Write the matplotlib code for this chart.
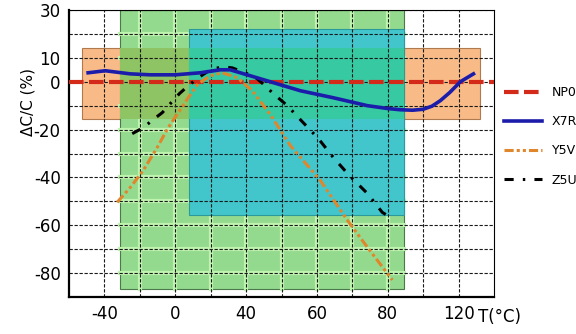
import matplotlib
matplotlib.use('Agg')
import matplotlib.pyplot as plt
from matplotlib.patches import Rectangle

# x axis: one grid step is 20 units, labels as printed on the original
x_grid = [-40, -20, 0, 20, 40, 60, 80, 100, 120, 140, 160]
x_labels = ['-40', '', '0', '', '40', '', '60', '', '80', '', '120']
y_grid = [-80, -70, -60, -50, -40, -30, -20, -10, 0, 10, 20, 30]
y_labels = ['-80', '', '-60', '', '-40', '', '-20', '', '0', '10', '', '30']

# tolerance regions (x0, x1, y0, y1)
x7r_box = (-52.5, 172, -15.4, 14.2)
y5v_box = (-31, 129.4, -86.7, 30)
z5u_box = (7.9, 129.4, -55.8, 22.1)

# curves
np0_x = [-60, 180]
np0_y = [0, 0]

x7r_x = [-49.2, -39.5, -25.4, -14.1, 0, 14.1, 25.4, 31, 36.7, 53.7, 70.6,
         89.3, 108.5, 120, 127, 134, 140, 145, 149.7, 155, 161, 168.4]
x7r_y = [3.75, 4.6, 3.3, 2.9, 2.9, 3.75, 5.0, 5.0, 3.75, 0, -3.75,
         -6.7, -10, -11.2, -11.7, -11.9, -11.5, -10.2, -7.9, -4.5, 0, 3.3]

y5v_x = [-32.8, -25.4, -18.1, -10.2, -4.0, 1.7, 7.3, 13.0, 19.8, 26.6, 35.0,
         43.5, 53.7, 65.0, 81.9, 97.2, 108.5, 122.6]
y5v_y = [-50.4, -44.2, -37.1, -27.5, -19.2, -12.9, -6.7, -0.8, 2.5, 3.75, 1.7,
         -3.75, -13.75, -26.7, -41.25, -57.9, -69.2, -82.9]

z5u_x = [-24.3, -18.1, -12.4, -7.3, -2.3, 2.3, 7.3, 13.0, 19.8, 26.6, 32.2,
         39.5, 46.3, 50.8, 55.4, 63.3, 70.6, 80.8, 89.3, 98.3, 108.5, 116.9, 123.2]
z5u_y = [-21.7, -19.2, -15.8, -12.9, -8.75, -5.0, -1.7, 1.7, 5.0, 6.25, 5.8,
         3.75, 1.25, -1.7, -5.0, -10.0, -15.8, -23.75, -31.7, -39.2, -46.7, -54.6, -57.5]


def box(ax, b, color, z, edge='none'):
    ax.add_patch(Rectangle((b[0], b[2]), b[1] - b[0], b[3] - b[2],
                           facecolor=color, edgecolor=edge, lw=0.8, zorder=z))


def overlap(a, b):
    return (max(a[0], b[0]), min(a[1], b[1]), max(a[2], b[2]), min(a[3], b[3]))


fig = plt.figure(figsize=(5.76, 3.34), dpi=100)
ax = fig.add_axes([69 / 576, 1 - 297 / 334, 425 / 576, 287 / 334])
ax.set_xlim(-60, 180)
ax.set_ylim(-90, 30)

# shaded regions
box(ax, x7r_box, '#f8bb88', 0.05, edge='#b07a50')
box(ax, y5v_box, '#94da8e', 0.1, edge='#4a7a4a')
# light green grid inside the Y5V region
for gx in x_grid:
    if y5v_box[0] < gx < y5v_box[1]:
        ax.plot([gx, gx], [y5v_box[2], y5v_box[3]], color='#bff3b0', lw=3, zorder=0.15)
for gy in y_grid:
    if y5v_box[2] < gy < y5v_box[3]:
        ax.plot([y5v_box[0], y5v_box[1]], [gy, gy], color='#bff3b0', lw=3, zorder=0.15)
box(ax, overlap(x7r_box, y5v_box), '#8ec463', 0.2)
box(ax, z5u_box, '#42c6cc', 0.25, edge='#2a9a9a')
box(ax, overlap(x7r_box, z5u_box), '#36c9a2', 0.3)

ax.set_xticks(x_grid)
ax.set_xticklabels(x_labels)
ax.set_yticks(y_grid)
ax.set_yticklabels(y_labels)
ax.tick_params(length=0, labelsize=12, pad=6)
ax.grid(True, color='#1a1a1a', lw=0.8, linestyle=(0, (3, 1.5)))
ax.set_axisbelow(True)

for s in ['left', 'bottom']:
    ax.spines[s].set_linewidth(1.6)
for s in ['top', 'right']:
    ax.spines[s].set_linewidth(0.8)

ax.plot(np0_x, np0_y, color='#d42a1a', lw=3, dashes=(3.5, 1.3), label='NP0', zorder=3)
ax.plot(x7r_x, x7r_y, color='#1c1caa', lw=2.6, label='X7R', zorder=4)
ax.plot(y5v_x, y5v_y, color='#e0862c', lw=2.2, dashes=(3, 1, 1, 1, 1, 1), label='Y5V', zorder=3)
ax.plot(z5u_x, z5u_y, color='black', lw=2.2, dashes=(3, 3, 0.8, 3), label='Z5U', zorder=3)

fig.legend(loc='upper left', bbox_to_anchor=(504 / 576, 1 - 86 / 334), frameon=False,
           fontsize=9, handlelength=3.0, handletextpad=0.8, labelspacing=1.3,
           borderpad=0, borderaxespad=0)

fig.text(28 / 576, 1 - 102 / 334, '\u0394C/C (%)', rotation=90, fontsize=11,
         ha='center', va='center')
fig.text(499 / 576, 1 - 317 / 334, 'T(\u00b0C)', fontsize=12, ha='center', va='center')

fig.savefig('out.png', dpi=100)
